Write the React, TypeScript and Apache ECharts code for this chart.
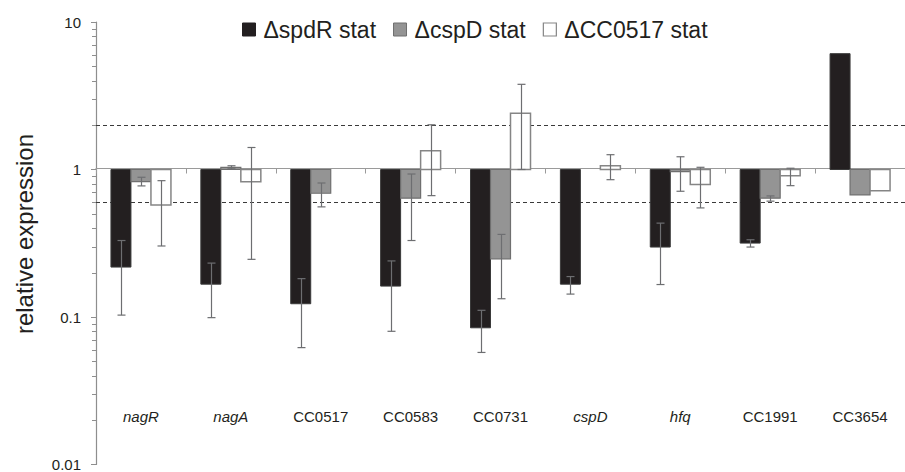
import React, { useEffect, useRef } from "react";
import * as echarts from "echarts";

const categories = ["nagR", "nagA", "CC0517", "CC0583", "CC0731", "cspD", "hfq", "CC1991", "CC3654"];
const italicCats = [true, true, false, false, false, true, true, false, false];

const seriesNames = ["\u0394spdR stat", "\u0394cspD stat", "\u0394CC0517 stat"];

const spdR = [0.218, 0.167, 0.123, 0.162, 0.0845, 0.167, 0.298, 0.317, 6.1];
const spdRLow = [0.103, 0.099, 0.062, 0.08, 0.0575, 0.143, 0.166, 0.298, null];
const spdRHigh = [0.33, 0.232, 0.182, 0.24, 0.111, 0.188, 0.433, 0.334, null];

const cspD = [0.827, 1.035, 0.69, 0.639, 0.248, null, 0.966, 0.639, 0.673];
const cspDLow = [0.774, 1.01, 0.558, 0.33, 0.133, null, 0.712, 0.61, null];
const cspDHigh = [0.886, 1.06, 0.81, 0.932, 0.363, null, 1.22, 0.662, null];

const cc0517 = [0.575, 0.827, null, 1.34, 2.41, 1.06, 0.79, 0.908, 0.719];
const cc0517Low = [0.303, 0.246, null, 0.665, 1.0, 0.853, 0.549, 0.777, null];
const cc0517High = [0.84, 1.41, null, 2.01, 3.78, 1.26, 1.035, 1.02, null];

const thresholdLines = [2, 0.6];
const minorTickValues = [
  0.02, 0.03, 0.04, 0.05, 0.06, 0.07, 0.08, 0.09,
  0.2, 0.3, 0.4, 0.5, 0.6, 0.7, 0.8, 0.9,
  2, 3, 4, 5, 6, 7, 8, 9,
];

const FONT = "'Liberation Sans', Arial, Helvetica, sans-serif";
const TEXT = "#231f20";
const AXIS = "#8e8e8e";
const ERR = "#6d6e71";

const barStyles = [
  { fill: "#231f20", stroke: "#3a3a3a", lineWidth: 1 },
  { fill: "#949494", stroke: "#6f6f6f", lineWidth: 1.2 },
  { fill: "#ffffff", stroke: "#858585", lineWidth: 1.5 },
];
const barOffsets = [-20, 0, 20];
const BAR_W = 20;
const CAP = 8;

function makeBarSeries(idx: number, values: (number | null)[], lows: (number | null)[], highs: (number | null)[]) {
  const data: any[] = [];
  values.forEach((v, i) => {
    if (v == null) return;
    const hasErr = lows[i] != null && highs[i] != null ? 1 : 0;
    data.push([i, v, lows[i] ?? v, highs[i] ?? v, hasErr]);
  });
  const st = barStyles[idx];
  return {
    type: "custom",
    name: seriesNames[idx],
    itemStyle: { color: st.fill, borderColor: st.stroke },
    encode: { x: 0, y: 1 },
    data,
    z: 3,
    renderItem: (params: any, api: any) => {
      const i = api.value(0);
      const v = api.value(1);
      const lo = api.value(2);
      const hi = api.value(3);
      const hasErr = api.value(4);
      const base = api.coord([i, 1]);
      const end = api.coord([i, v]);
      const cx = base[0] + barOffsets[idx];
      const y0 = Math.min(base[1], end[1]);
      const h = Math.abs(base[1] - end[1]);
      const children: any[] = [
        {
          type: "rect",
          shape: { x: cx - BAR_W / 2, y: y0, width: BAR_W, height: h },
          style: { fill: st.fill, stroke: st.stroke, lineWidth: st.lineWidth },
        },
      ];
      if (hasErr) {
        const yl = api.coord([i, lo])[1];
        const yh = api.coord([i, hi])[1];
        const lx = Math.round(cx) + 0.5;
        const es = { stroke: ERR, lineWidth: 1.2 };
        children.push(
          { type: "line", shape: { x1: lx, y1: yl, x2: lx, y2: yh }, style: es },
          { type: "line", shape: { x1: lx - CAP / 2, y1: yl, x2: lx + CAP / 2, y2: yl }, style: es },
          { type: "line", shape: { x1: lx - CAP / 2, y1: yh, x2: lx + CAP / 2, y2: yh }, style: es }
        );
      }
      return { type: "group", children };
    },
  };
}

export default function App() {
  const ref = useRef<HTMLDivElement>(null);
  useEffect(() => {
    if (!ref.current) return;
    const chart = echarts.init(ref.current, null, { renderer: "svg" });
    const option: any = {
      animation: false,
      backgroundColor: "#ffffff",
      textStyle: { fontFamily: FONT, color: TEXT },
      grid: { left: 96, right: -10, top: 22, bottom: 6, containLabel: false },
      legend: {
        left: 237,
        top: 13,
        icon: "rect",
        itemWidth: 13,
        itemHeight: 13,
        itemGap: 17,
        textStyle: { fontSize: 23, color: TEXT, fontFamily: FONT, padding: [0, 0, 0, 3] },
        data: [
          { name: seriesNames[0], itemStyle: { color: "#231f20", borderColor: "#231f20", borderWidth: 1 } },
          { name: seriesNames[1], itemStyle: { color: "#949494", borderColor: "#6f6f6f", borderWidth: 1 } },
          { name: seriesNames[2], itemStyle: { color: "#ffffff", borderColor: "#858585", borderWidth: 1.2 } },
        ],
        selectedMode: false,
      },
      xAxis: {
        type: "category",
        data: categories,
        position: "bottom",
        offset: -296,
        boundaryGap: true,
        axisLine: { show: true, lineStyle: { color: "#9a9a9a", width: 1.2 } },
        axisTick: { show: true, length: 5, lineStyle: { color: "#9a9a9a" } },
        axisLabel: {
          margin: 240,
          interval: 0,
          fontSize: 15,
          color: TEXT,
          fontFamily: FONT,
          formatter: (val: string) =>
            italicCats[categories.indexOf(val)] ? `{i|${val}}` : `{n|${val}}`,
          rich: {
            i: { fontStyle: "italic", fontSize: 15, color: TEXT, fontFamily: FONT },
            n: { fontSize: 15, color: TEXT, fontFamily: FONT },
          },
        },
        splitLine: { show: false },
      },
      yAxis: {
        type: "log",
        logBase: 10,
        min: 0.01,
        max: 10,
        axisLine: { show: true, lineStyle: { color: AXIS, width: 1.2 } },
        axisTick: { show: true, length: 5, lineStyle: { color: AXIS } },
        axisLabel: { fontSize: 15, color: TEXT, margin: 15, fontFamily: FONT },
        splitLine: { show: false },
      },
      graphic: [
        {
          type: "text",
          x: 24,
          y: 234,
          rotation: Math.PI / 2,
          style: {
            text: "relative expression",
            fontSize: 24,
            fontFamily: FONT,
            fill: TEXT,
            textAlign: "center",
            textVerticalAlign: "middle",
          },
        },
      ],
      series: [
        {
          type: "custom",
          name: "minorTicks",
          encode: { x: 0, y: 1 },
          data: minorTickValues.map((v) => [0, v]),
          silent: true,
          renderItem: (params: any, api: any) => {
            const y = Math.round(api.coord([0, api.value(1)])[1]) + 0.5;
            const x0 = params.coordSys.x;
            return {
              type: "line",
              shape: { x1: x0 - 4, y1: y, x2: x0, y2: y },
              style: { stroke: AXIS, lineWidth: 1 },
            };
          },
        },
        {
          type: "custom",
          name: "thresholds",
          encode: { x: 0, y: 1 },
          data: thresholdLines.map((v) => [0, v]),
          silent: true,
          z: 1,
          renderItem: (params: any, api: any) => {
            const y = Math.round(api.coord([0, api.value(1)])[1]) + 0.5;
            const x0 = params.coordSys.x;
            return {
              type: "line",
              shape: { x1: x0, y1: y, x2: x0 + params.coordSys.width, y2: y },
              style: { stroke: "#3a3a3a", lineWidth: 1, lineDash: [4, 3] },
            };
          },
        },
        makeBarSeries(0, spdR, spdRLow, spdRHigh),
        makeBarSeries(1, cspD, cspDLow, cspDHigh),
        makeBarSeries(2, cc0517, cc0517Low, cc0517High),
      ],
    };
    chart.setOption(option);
    return () => chart.dispose();
  }, []);
  return (
    <div
      ref={ref}
      style={{ position: "fixed", left: 0, top: 0, width: 905, height: 472, background: "#fff" }}
    />
  );
}
